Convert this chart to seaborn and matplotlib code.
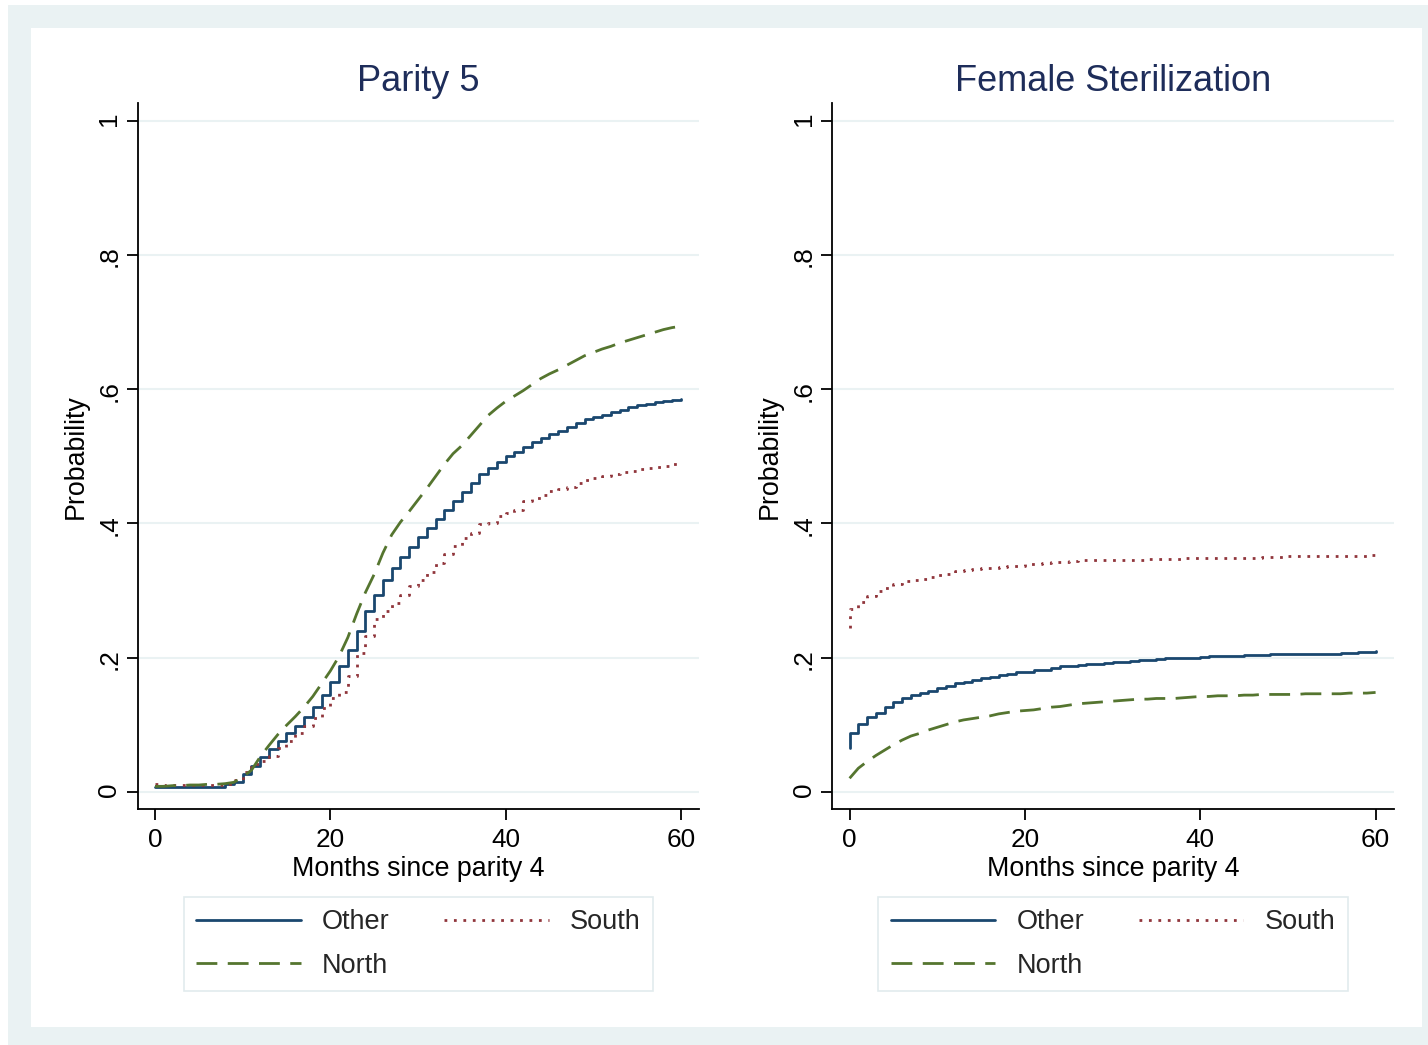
import numpy as np
import pandas as pd
import matplotlib
matplotlib.use("Agg")
import matplotlib.pyplot as plt
import seaborn as sns
from matplotlib.patches import Rectangle
from matplotlib.lines import Line2D

# ---- data ----
months = list(range(61))

# Parity 5 panel
p5_other = [0.0075, 0.0075, 0.0075, 0.0075, 0.0075, 0.0075, 0.0075, 0.0075,
            0.011, 0.015, 0.027, 0.039, 0.052, 0.064, 0.076, 0.087, 0.098, 0.112,
            0.126, 0.144, 0.164, 0.187, 0.212, 0.239, 0.270, 0.294, 0.315, 0.333,
            0.350, 0.365, 0.380, 0.393, 0.406, 0.420, 0.434, 0.447, 0.461, 0.474,
            0.483, 0.492, 0.500, 0.507, 0.514, 0.522, 0.528, 0.533, 0.538, 0.544,
            0.550, 0.555, 0.558, 0.562, 0.566, 0.569, 0.573, 0.576, 0.578, 0.581,
            0.583, 0.584, 0.585]
p5_south = [0.011, 0.010, 0.010, 0.010, 0.010, 0.010, 0.010, 0.010, 0.012, 0.017,
            0.030, 0.041, 0.046, 0.053, 0.065, 0.076, 0.087, 0.098, 0.110, 0.125,
            0.140, 0.149, 0.172, 0.207, 0.232, 0.257, 0.269, 0.282, 0.294, 0.306,
            0.316, 0.328, 0.341, 0.354, 0.366, 0.379, 0.386, 0.399, 0.401, 0.411,
            0.415, 0.420, 0.433, 0.438, 0.443, 0.448, 0.452, 0.455, 0.460, 0.464,
            0.468, 0.471, 0.474, 0.476, 0.478, 0.481, 0.482, 0.484, 0.486, 0.488,
            0.489]
p5_north = [0.008, 0.008, 0.009, 0.009, 0.010, 0.010, 0.011, 0.011, 0.012, 0.014,
            0.022, 0.032, 0.052, 0.069, 0.085, 0.099, 0.112, 0.126, 0.142, 0.161,
            0.180, 0.202, 0.230, 0.265, 0.297, 0.324, 0.356, 0.383, 0.402, 0.418,
            0.435, 0.452, 0.470, 0.488, 0.504, 0.516, 0.531, 0.546, 0.561, 0.572,
            0.582, 0.590, 0.598, 0.607, 0.616, 0.623, 0.629, 0.636, 0.643, 0.650,
            0.655, 0.660, 0.664, 0.669, 0.673, 0.677, 0.681, 0.685, 0.689, 0.692,
            0.694]

# Female sterilization panel (first month repeated for the jump at 0)
fs_months = [0] + months
fs_other = [0.065, 0.088, 0.101, 0.112, 0.118, 0.126, 0.134, 0.140, 0.144, 0.147,
            0.150, 0.154, 0.158, 0.162, 0.164, 0.167, 0.169, 0.171, 0.174, 0.176,
            0.178, 0.179, 0.181, 0.182, 0.184, 0.187, 0.188, 0.189, 0.190, 0.191,
            0.192, 0.193, 0.194, 0.195, 0.196, 0.196, 0.198, 0.199, 0.200, 0.200,
            0.200, 0.201, 0.202, 0.202, 0.203, 0.203, 0.204, 0.204, 0.204, 0.205,
            0.205, 0.205, 0.205, 0.206, 0.206, 0.206, 0.206, 0.207, 0.207, 0.209,
            0.209, 0.210]
fs_south = [0.244, 0.272, 0.283, 0.292, 0.299, 0.304, 0.309, 0.314, 0.315, 0.317,
            0.320, 0.323, 0.324, 0.329, 0.331, 0.332, 0.333, 0.334, 0.335, 0.336,
            0.337, 0.339, 0.340, 0.341, 0.342, 0.343, 0.344, 0.345, 0.345, 0.345,
            0.346, 0.346, 0.346, 0.346, 0.346, 0.347, 0.347, 0.347, 0.347, 0.348,
            0.348, 0.348, 0.348, 0.348, 0.348, 0.348, 0.349, 0.349, 0.350, 0.350,
            0.350, 0.351, 0.351, 0.351, 0.351, 0.351, 0.352, 0.352, 0.352, 0.352,
            0.353, 0.353]
fs_north = [0.020, 0.035, 0.045, 0.054, 0.062, 0.070, 0.077, 0.083, 0.087, 0.092,
            0.096, 0.100, 0.104, 0.107, 0.109, 0.111, 0.113, 0.116, 0.118, 0.120,
            0.121, 0.122, 0.124, 0.126, 0.127, 0.129, 0.131, 0.132, 0.133, 0.134,
            0.135, 0.136, 0.137, 0.138, 0.138, 0.139, 0.139, 0.139, 0.140, 0.141,
            0.142, 0.142, 0.143, 0.143, 0.143, 0.144, 0.144, 0.145, 0.145, 0.145,
            0.145, 0.145, 0.146, 0.146, 0.146, 0.146, 0.146, 0.147, 0.147, 0.147,
            0.148]

titles = ["Parity 5", "Female Sterilization"]
xticks = [0, 20, 40, 60]
yticks = [0, 0.2, 0.4, 0.6, 0.8, 1]
ytick_labels = ["0", ".2", ".4", ".6", ".8", "1"]

# ---- style ----
sns.set_style("white")
plt.rcParams["font.family"] = ["Liberation Sans", "DejaVu Sans"]

NAVY = "#1A476F"
MAROON = "#90353B"
GREEN = "#55752F"
GRID = "#EAF2F3"
TITLE_C = "#1E2D5A"
LW = 2.0
FS = 19.3
TICK_FS = 18.8
LS_OTHER = "-"
LS_SOUTH = (0, (1, 2.4))
LS_NORTH = (0, (7.5, 3.75))

W, H = 1428, 1045
fig = plt.figure(figsize=(W / 100, H / 100), dpi=100)
fig.patch.set_facecolor("white")
fig.add_artist(Rectangle((8 / W, 0), 1, (H - 5) / H, transform=fig.transFigure,
                         facecolor=GRID, edgecolor="none", zorder=-2))
fig.add_artist(Rectangle((31 / W, (H - 1026.7) / H), (1421.7 - 31) / W, (1026.7 - 28.3) / H,
                         transform=fig.transFigure, facecolor="white", edgecolor="none", zorder=-1))

ax_w = 561.6 / W
ax_b = (H - 809) / H
ax_h = (809 - 103.3) / H
axes = [fig.add_axes([137.7 / W, ax_b, ax_w, ax_h]),
        fig.add_axes([832.3 / W, ax_b, ax_w, ax_h])]


def draw(ax, x, y, color, ls, steps):
    df = pd.DataFrame({"month": x, "prob": y})
    kw = {"drawstyle": "steps-post"} if steps else {}
    sns.lineplot(data=df, x="month", y="prob", ax=ax, color=color, linewidth=LW,
                 linestyle=ls, estimator=None, legend=False, **kw)


panels = [
    (months, p5_other, months, p5_south, months, p5_north),
    (fs_months, fs_other, fs_months, fs_south, months, fs_north),
]

for ax, title, (xo, yo, xs, ys, xn, yn) in zip(axes, titles, panels):
    ax.set_facecolor("white")
    draw(ax, xo, yo, NAVY, LS_OTHER, True)
    draw(ax, xs, ys, MAROON, LS_SOUTH, True)
    draw(ax, xn, yn, GREEN, LS_NORTH, False)

    ax.set_xlim(-1.973, 62.09)
    ax.set_ylim(-0.0258, 1.0264)
    ax.set_xticks(xticks)
    ax.set_xticklabels([str(t) for t in xticks])
    ax.set_yticks(yticks)
    ax.set_yticklabels(ytick_labels)
    ax.yaxis.grid(True, color=GRID, linewidth=1.5)
    ax.xaxis.grid(False)
    ax.set_axisbelow(True)

    for s in ["top", "right"]:
        ax.spines[s].set_visible(False)
    for s in ["left", "bottom"]:
        ax.spines[s].set_color("black")
        ax.spines[s].set_linewidth(1.3)

    ax.tick_params(axis="both", which="major", bottom=True, left=True, direction="out",
                   length=7.9, width=1.3, color="black", labelsize=TICK_FS, labelcolor="black")
    ax.tick_params(axis="x", pad=6)
    ax.tick_params(axis="y", pad=4, labelrotation=90)

    ax.set_title(title, fontsize=26, color=TITLE_C, pad=9)
    ax.set_xlabel("Months since parity 4", fontsize=FS, color="black")
    ax.set_ylabel("Probability", fontsize=FS, color="black")
    ax.xaxis.set_label_coords(0.5, -0.066)
    ax.yaxis.set_label_coords(-0.088, 0.5)

    handles = [Line2D([], [], color=NAVY, lw=LW, linestyle=LS_OTHER),
               Line2D([], [], color=GREEN, lw=LW, linestyle=LS_NORTH),
               Line2D([], [], color=MAROON, lw=LW, linestyle=LS_SOUTH)]
    leg = ax.legend(handles, ["Other", "North", "South"], ncol=2, loc="upper center",
                    bbox_to_anchor=(0.5, -0.1243), borderaxespad=0, fontsize=19.5,
                    handlelength=3.85, handletextpad=0.78, columnspacing=2.03,
                    borderpad=0.47, labelspacing=0.63, frameon=True, fancybox=False,
                    framealpha=1, edgecolor="#E2EBED")
    leg.get_frame().set_linewidth(1.2)

fig.savefig("out.png", dpi=100)
